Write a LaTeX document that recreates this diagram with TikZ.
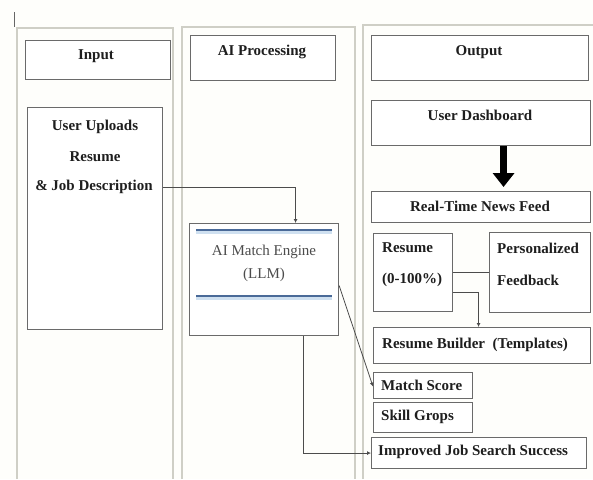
\documentclass[tikz,border=0pt]{standalone}
\usepackage{fontspec}
\setmainfont{Liberation Serif}
\usetikzlibrary{arrows.meta,calc}
\definecolor{lanegray}{HTML}{CFCFC6}
\definecolor{boxgray}{HTML}{6A6A6A}
\definecolor{txtcol}{HTML}{1E1E1E}
\definecolor{bluel}{HTML}{4A6A98}
\definecolor{blueh}{HTML}{CFE0F0}
\definecolor{bg}{HTML}{FEFEFB}
\tikzset{
  lane/.style={draw=lanegray, line width=1.3pt},
  box/.style={draw=boxgray, line width=1.1pt, fill=white, anchor=north west, inner sep=0pt},
  lbl/.style={font=\fontsize{15}{17}\selectfont\bfseries, text=txtcol, inner sep=0pt},
  lblw/.style={lbl, anchor=west},
  eng/.style={font=\fontsize{15}{17}\selectfont, text=black!70, inner sep=0pt},
  conn/.style={draw=black!70, line width=0.8pt},
  tip/.style={-{Latex[length=4pt,width=4pt]}},
  bigarrow/.style={draw=black, line width=7pt, -{Triangle[width=21pt,length=14pt]}},
  blueline/.style={draw=bluel, line width=2pt},
  bluehalo/.style={draw=blueh, line width=5pt}
}
\begin{document}
\begin{tikzpicture}[x=1pt,y=-1pt]
\useasboundingbox[fill=bg] (0,0) rectangle (593,479);
% lanes
\draw[lane] (17,479) -- (17,28) -- (173,28) -- (173,479);
\draw[lane] (182,479) -- (182,27) -- (355,27) -- (355,479);
\draw[lane] (363,479) -- (363,25) -- (593,25);
\draw[draw=black!60, line width=1pt] (14,12) -- (14,27);
% input lane
\node[box, minimum width=145, minimum height=39] (input) at (25,40) {};
\node[lbl] (inputt) at (96,56) {Input};
\node[box, minimum width=135, minimum height=222] (upload) at (27,107) {};
\node[lbl] (u1) at (95,127) {User Uploads};
\node[lbl] (u2) at (95,157) {Resume};
\node[lbl] (u3) at (94,187) {\& Job Description};
% AI processing lane
\node[box, minimum width=145, minimum height=45] (aip) at (190,35) {};
\node[lbl] (aipt) at (262,52) {AI Processing};
\node[box, minimum width=149, minimum height=112] (engine) at (189,223) {};
\draw[bluehalo] (196,231) -- (332,231);
\draw[blueline] (196,230) -- (332,230);
\draw[bluehalo] (196,297) -- (332,297);
\draw[blueline] (196,296) -- (332,296);
\node[eng] (e1) at (264,252) {AI Match Engine};
\node[eng] (e2) at (264,275) {(LLM)};
% output lane
\node[box, minimum width=217, minimum height=45] (output) at (371,35) {};
\node[lbl] (outputt) at (479,52) {Output};
\node[box, minimum width=219, minimum height=45] (dash) at (371,100) {};
\node[lbl] (dasht) at (480,115) {User Dashboard};
\node[box, minimum width=219, minimum height=31] (news) at (371,191) {};
\node[lbl] (newst) at (480,206) {Real-Time News Feed};
\node[box, minimum width=79, minimum height=78] (resume) at (373,233) {};
\node[lblw] (r1) at (382,248) {Resume};
\node[lblw] (r2) at (382,280) {(0-100\%)};
\node[box, minimum width=101, minimum height=80] (feedback) at (489,232) {};
\node[lblw] (f1) at (497,248) {Personalized};
\node[lblw] (f2) at (497,280) {Feedback};
\node[box, minimum width=217, minimum height=36] (builder) at (373,327) {};
\node[lblw] (bt) at (382,345) {Resume Builder\ \ (Templates)};
\node[box, minimum width=99, minimum height=26] (mscore) at (373,372) {};
\node[lblw] (mt) at (381,385) {Match Score};
\node[box, minimum width=99, minimum height=30] (skill) at (373,402) {};
\node[lblw] (st) at (381,417) {Skill Grops};
\node[box, minimum width=215, minimum height=31] (improved) at (371,437) {};
\node[lblw] (it) at (378,452) {Improved Job Search Success};
% connectors
\draw[conn, tip] (upload.east |- u3) -| ([xshift=31.5pt]engine.north);
\draw[bigarrow] ([xshift=22.5pt]dash.south) -- ([xshift=22.5pt,yshift=4pt]news.north);
\draw[conn] (resume.east) -- (resume.east -| feedback.west);
\draw[conn, tip] ([yshift=-20pt]resume.east) -| ([xshift=-3.5pt]builder.north);
\draw[conn, tip] ([yshift=-6pt]engine.east) -- ([yshift=-1pt]mscore.west);
\draw[conn, tip] ([xshift=39.5pt]engine.south) |- (improved.west);
\end{tikzpicture}
\end{document}
